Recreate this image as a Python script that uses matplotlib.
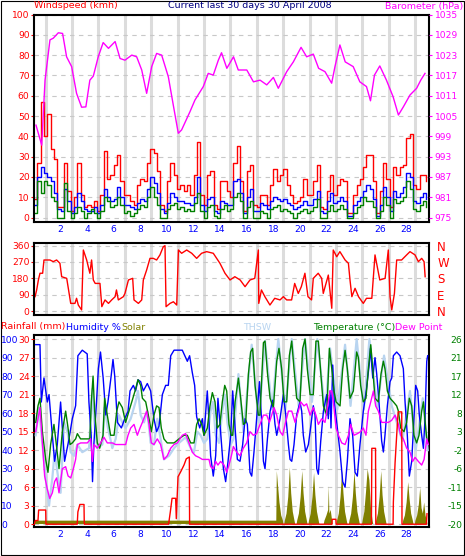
import numpy as np
import matplotlib
matplotlib.use('Agg')
import matplotlib.pyplot as plt
from matplotlib.patches import Rectangle

plt.rcParams['font.family'] = ['DejaVu Sans']
plt.rcParams['axes.unicode_minus'] = False

RED = '#ff0000'
BLUE = '#0000ff'
GREEN = '#008000'
MAG = '#ff00ff'
OLIVE = '#808000'
THSW_C = '#b8d4f0'
NAVY = '#000080'

# ---- data (day of period, value) ----
# wind, one sample per 6 hours (km/h)
gust = [9,27,57,40,51,34,29,5,5,27, 13,3,10,27,11,5,6,5,8,3,
        11,33,19,21,26,31,18,11,11,8, 6,16,19,18,27,34,32,23,6,3,
        18,27,21,14,16,13,16,11,21,37, 11,6,21,23,6,4,18,18,13,10,
        27,35,18,3,23,26,6,5,11,11, 6,16,24,18,21,24,16,11,7,8,
        10,19,11,11,18,26,5,4,13,21, 11,16,19,18,2,2,11,16,19,25,
        31,31,18,2,13,27,19,5,25,21, 25,26,39,41,16,14,21,21,18]
wind_avg = [6,20,25,22,20,18,12,4,3,14, 8,2,5,12,8,4,3,3,5,2,
            6,14,10,8,9,15,10,6,6,5, 4,7,9,8,14,20,17,12,4,2,
            7,12,10,8,8,7,7,6,10,20, 6,3,9,10,3,2,8,7,6,6,
            18,19,12,2,10,14,3,3,7,6, 4,8,10,9,8,9,7,6,4,5,
            6,8,6,6,9,13,3,2,8,12, 7,8,10,8,1,1,6,8,10,13,
            16,14,9,1,6,15,10,3,13,10, 12,15,22,20,8,7,10,12,9]
wind = [2,18,12,18,16,10,8,0,0,17, 3,0,2,5,3,0,2,4,2,0,
        3,10,8,5,6,10,6,2,3,1, 2,4,6,5,10,15,10,6,0,0,
        4,6,7,4,5,3,4,3,7,12, 3,0,5,6,1,0,4,6,3,4,
        10,12,8,0,5,8,0,0,3,2, 0,4,5,6,3,4,3,2,0,2,
        3,4,2,3,5,9,0,0,3,6, 3,4,6,4,0,0,2,5,6,10,
        8,8,5,0,3,10,6,0,9,7, 8,10,18,14,4,3,6,8,5]

barometer = [(0.15,1002.3),(0.58,996.4),(0.83,1015.6),(1.2,1027.5),(1.45,1028),(1.83,1029.6),
             (2.15,1029.4),(2.45,1022.5),(2.83,1019.6),(3.2,1011.7),(3.58,1007.6),(3.9,1007.7),
             (4.2,1015.6),(4.46,1016.8),(4.83,1022.5),(5.2,1026.7),(5.6,1025),(6.1,1027),
             (6.47,1022),(6.84,1021.5),(7.35,1023),(7.72,1022.5),(8.1,1018.6),(8.47,1011.7),
             (8.85,1019.6),(9.22,1023.5),(9.6,1023),(10.1,1016.6),(10.47,1008.3),(10.85,999.9),
             (11.1,1000.9),(11.73,1006.3),(12.1,1009.7),(12.73,1013.7),(13.1,1017.6),(13.48,1017.1),
             (13.86,1021.5),(14.1,1023.7),(14.5,1019.1),(15.0,1022.5),(15.36,1018.6),(16.0,1018.6),
             (16.5,1015.1),(17.0,1015.6),(17.5,1014.2),(18.0,1016.4),(18.37,1013.2),(19.0,1018.1),
             (19.5,1021),(20.08,1025.3),(20.5,1022.5),(21.0,1023.3),(21.4,1019.1),(21.88,1018.1),
             (22.38,1014.7),(22.63,1019.6),(23.0,1026),(23.4,1021),(24.0,1019.6),(24.5,1015.1),
             (25.0,1013.7),(25.3,1009.5),(25.6,1017.1),(26.0,1019.8),(26.5,1015.6),(27.0,1010.7),
             (27.4,1005.3),(27.77,1007.7),(28.27,1011.2),(28.77,1013.2),(29.08,1015.6),(29.4,1017.6)]

wind_dir = [(0.08,79),(0.2,116),(0.33,171),(0.45,208),(0.65,208),(0.75,281),(1.2,281),(1.45,272),
            (1.7,281),(1.95,263),(2.08,189),(2.46,180),(2.58,125),(2.76,42),(3.08,42),(3.2,70),
            (3.33,33),(3.58,6),(3.71,336),(3.96,281),(4.2,208),(4.33,281),(4.46,171),(4.6,152),
            (4.96,152),(5.1,24),(5.34,61),(5.6,42),(5.84,61),(6.1,79),(6.2,116),(6.34,61),
            (6.72,79),(6.84,97),(7.1,171),(7.42,180),(7.52,61),(7.85,42),(8.1,61),(8.22,171),
            (8.47,226),(8.72,290),(8.97,290),(9.22,281),(9.47,309),(9.72,354),(9.85,360),(9.93,24),
            (10.23,42),(10.48,51),(10.73,33),(10.86,336),(11.1,318),(11.48,336),(11.86,318),(12.23,290),
            (12.6,318),(12.98,327),(13.48,318),(13.98,263),(14.36,208),(14.74,171),(15.1,189),(15.5,171),
            (15.87,134),(16.24,171),(16.6,180),(16.87,336),(16.9,42),(17.1,116),(17.36,79),(17.74,33),
            (18.1,70),(18.5,61),(18.75,79),(19.0,61),(19.37,61),(19.6,152),(19.87,97),(20.1,134),
            (20.37,208),(20.6,79),(20.87,61),(21.0,180),(21.37,208),(21.63,180),(21.75,97),(22.13,198),
            (22.39,15),(22.5,336),(22.76,299),(23.0,327),(23.39,281),(23.64,263),(23.76,171),(23.9,79),
            (24.14,125),(24.4,79),(24.76,42),(25.0,70),(25.4,70),(25.64,309),(26.0,171),(26.4,180),
            (26.64,336),(26.77,79),(26.9,6),(27.1,97),(27.27,281),(27.64,281),(28.02,309),(28.27,327),
            (28.65,309),(28.9,272),(29.15,290),(29.33,272),(29.41,189)]

humidity = [(0.13,97),(0.45,97),(0.55,66),(0.75,79),(1.0,66),(1.13,70),(1.38,48),(1.55,34),(1.75,43),
            (2.0,66),(2.3,34),(2.63,46),(2.88,57),(3.13,64),(3.3,91),(3.63,94),(4.0,92),(4.13,66),
            (4.3,48),(4.4,23),(4.5,43),(4.7,66),(4.84,84),(5.0,93),(5.2,79),(5.4,59),(5.56,66),
            (5.8,80),(5.94,89),(6.07,80),(6.27,55),(6.57,52),(6.82,57),(7.07,61),(7.22,72),(7.47,75),
            (7.64,72),(7.82,78),(8.02,77),(8.22,72),(8.52,76),(8.77,72),(9.02,57),(9.22,50),(9.4,53),
            (9.65,70),(9.9,75),(10.1,75),(10.28,91),(10.53,94),(11.15,94),(11.53,88),(11.7,91),
            (11.9,82),(12.08,75),(12.23,58),(12.46,52),(12.66,57),(12.78,48),(13.03,72),(13.16,55),
            (13.28,37),(13.48,26),(13.66,37),(13.83,68),(14.03,50),(14.24,30),(14.41,23),(14.59,34),
            (14.79,48),(14.94,72),(15.12,52),(15.29,35),(15.49,34),(15.69,43),(15.87,57),(16.04,54),
            (16.24,28),(16.37,26),(16.54,39),(16.74,57),(16.95,77),(17.12,55),(17.25,34),(17.37,30),
            (17.55,46),(17.75,61),(17.95,67),(18.12,54),(18.25,48),(18.5,57),(18.75,70),(18.93,59),
            (19.13,43),(19.25,35),(19.38,34),(19.55,43),(19.75,59),(20.0,66),(20.13,61),(20.25,48),
            (20.43,39),(20.63,43),(20.76,50),(21.0,64),(21.13,59),(21.26,30),(21.38,27),(21.56,45),
            (21.76,61),(22.01,70),(22.13,57),(22.26,72),(22.33,52),(22.46,86),(22.58,66),(22.76,55),
            (23.01,39),(23.21,23),(23.39,20),(23.56,34),(23.76,57),(23.96,48),(24.14,28),(24.31,26),
            (24.51,43),(24.76,61),(25.0,73),(25.2,86),(25.3,95),(25.47,79),(25.64,90),(25.77,81),
            (25.94,66),(26.14,45),(26.27,39),(26.39,48),(26.57,64),(26.77,77),(26.9,79),(27.02,91),
            (27.27,93),(27.52,91),(27.77,84),(27.9,66),(28.07,48),(28.22,26),(28.4,34),(28.52,50),
            (28.7,75),(28.85,72),(28.97,59),(29.15,48),(29.28,41),(29.4,57),(29.53,88),(29.6,91)]

temperature = [(0.13,5.3),(0.3,9.4),(0.45,11.3),(0.63,3.0),(0.88,-3.9),(1.05,-7.1),(1.25,-0.2),
               (1.5,4.8),(1.68,-0.2),(1.88,-6.2),(2.13,3.0),(2.38,8.1),(2.56,3.9),(2.71,-0.2),
               (2.88,0.2),(3.13,1.2),(3.26,2.5),(3.5,1.2),(4.0,1.2),(4.2,1.2),(4.31,10.4),(4.44,16.8),
               (4.56,8.1),(4.76,0.2),(4.94,-1.1),(5.19,2.1),(5.31,11.3),(5.51,7.1),(5.76,2.1),(6.02,2.1),
               (6.22,8.1),(6.39,10.4),(6.64,9.0),(6.89,5.3),(7.14,8.1),(7.39,10.8),(7.64,13.6),(7.82,15.9),
               (8.02,14.5),(8.15,11.3),(8.4,10.4),(8.65,6.2),(8.82,3.0),(9.02,7.1),(9.22,9.4),(9.4,9.0),
               (9.57,3.9),(9.77,1.2),(10.02,0.2),(10.53,0.2),(10.9,1.2),(11.28,2.1),(11.53,2.1),
               (11.78,0.2),(12.03,0.2),(12.23,4.8),(12.41,6.2),(12.61,4.8),(12.78,2.1),(13.03,3.9),
               (13.23,9.4),(13.41,12.7),(13.61,10.4),(13.78,3.9),(13.98,4.8),(14.16,10.4),(14.34,14.5),
               (14.49,13.1),(14.66,4.8),(14.84,2.1),(14.94,2.1),(15.12,10.4),(15.37,16.3),(15.54,11.3),
               (15.74,4.8),(15.92,5.3),(16.12,17.3),(16.29,22.8),(16.44,23.7),(16.62,14.5),(16.87,7.1),
               (16.99,7.1),(17.25,25.1),(17.37,25.5),(17.55,17.7),(17.75,11.3),(18.0,9.0),(18.25,20.5),
               (18.42,23.7),(18.62,18.6),(18.8,10.4),(19.0,10.4),(19.2,21.9),(19.38,25.5),(19.55,18.6),
               (19.75,11.3),(20.0,10.4),(20.2,23.7),(20.38,26.0),(20.55,18.6),(20.76,12.2),(21.0,12.2),
               (21.2,25.5),(21.38,25.5),(21.56,17.7),(21.76,9.4),(22.01,7.1),(22.21,23.7),(22.39,18.6),
               (22.56,13.1),(22.71,10.4),(23.01,9.4),(23.21,18.6),(23.39,23.2),(23.56,18.6),(23.76,11.3),
               (24.01,13.1),(24.26,22.8),(24.39,21.4),(24.56,14.5),(24.76,10.4),(24.96,11.3),(25.14,18.6),
               (25.32,24.6),(25.47,18.6),(25.64,11.3),(25.89,10.4),(26.09,17.3),(26.27,20.5),(26.39,18.6),
               (26.57,13.1),(26.77,11.3),(27.02,10.4),(27.27,9.4),(27.4,8.1),(27.57,3.9),(27.82,3.0),
               (28.02,5.3),(28.22,11.3),(28.4,9.4),(28.57,2.1),(28.77,0.2),(28.95,2.1),(29.15,8.1),
               (29.28,10.4),(29.45,3.9),(29.57,0.2)]

dew_point = [(0.13,3.0),(0.3,6.2),(0.45,9.0),(0.63,0.2),(0.8,-8.0),(1.0,-11.3),(1.18,-13.6),
             (1.38,-12.2),(1.55,-9.4),(1.7,-8.5),(1.88,-12.2),(2.13,-6.2),(2.38,-5.7),(2.56,-8.0),
             (2.76,-8.5),(2.96,-6.2),(3.13,-3.9),(3.26,-0.2),(3.51,0.2),(4.01,0.2),(4.26,1.2),
             (4.39,-4.4),(4.51,-0.2),(4.76,-1.1),(5.01,0.2),(5.26,1.6),(5.51,0.2),(5.89,0.2),
             (6.14,-0.2),(6.52,-0.2),(6.89,-0.2),(7.07,2.1),(7.27,3.9),(7.52,4.8),(7.77,2.1),
             (7.97,3.9),(8.15,5.3),(8.47,8.1),(8.65,4.8),(8.82,0.2),(9.02,-0.2),(9.27,1.2),
             (9.52,-0.2),(9.77,-3.9),(10.02,-3.0),(10.28,-1.1),(10.53,-0.2),(10.78,0.2),(11.15,2.1),
             (11.4,2.5),(11.65,0.2),(11.9,-2.1),(12.15,-3.0),(12.41,-3.4),(12.66,-3.9),(12.91,-3.9),
             (13.16,-3.9),(13.28,-5.7),(13.48,-6.2),(13.66,-4.4),(13.83,-5.3),(14.03,-4.4),
             (14.29,-5.3),(14.49,-7.1),(14.66,-5.3),(14.84,-3.0),(14.99,-0.7),(15.24,-2.1),
             (15.49,-3.0),(15.74,-1.1),(15.99,0.2),(16.24,3.0),(16.49,2.1),(16.74,2.5),(16.99,4.8),
             (17.25,7.1),(17.5,7.1),(17.7,5.3),(17.87,7.1),(18.05,9.0),(18.25,7.1),(18.5,3.0),
             (18.7,2.1),(18.88,4.8),(19.13,8.1),(19.38,8.1),(19.63,5.3),(19.88,8.1),(20.05,10.4),
             (20.3,9.4),(20.5,9.9),(20.76,7.1),(21.0,9.0),(21.2,7.1),(21.38,4.8),(21.63,6.2),
             (21.88,5.3),(22.06,9.0),(22.26,13.1),(22.38,13.1),(22.51,10.4),(22.71,3.9),(22.89,2.1),
             (23.14,0.2),(23.39,-0.2),(23.64,2.1),(23.81,4.8),(24.06,2.1),(24.31,2.5),(24.56,3.0),
             (24.76,3.9),(24.96,2.1),(25.14,8.1),(25.32,10.4),(25.52,13.1),(25.69,9.4),(25.89,8.1),
             (26.14,5.3),(26.39,5.3),(26.64,5.3),(26.89,5.8),(27.15,7.1),(27.4,4.8),(27.57,2.1),
             (27.77,1.2),(28.02,-1.1),(28.27,-2.1),(28.47,-4.4),(28.65,-3.4),(28.9,-4.4),(29.15,-5.3),
             (29.33,-3.9),(29.53,1.2),(29.65,-0.2)]

thsw = [(0.13,2.1),(0.38,9.0),(0.63,-0.2),(0.88,-8.5),(1.13,-15.4),(1.38,-8.5),(1.55,-2.1),
        (1.8,-8.0),(2.0,-12.2),(2.26,5.3),(2.51,3.0),(2.76,-2.1),(3.01,-3.0),(3.26,-0.2),
        (3.63,-2.1),(4.14,-1.1),(4.39,13.6),(4.51,6.2),(4.76,-1.1),(5.14,-0.2),(5.31,9.0),
        (5.56,3.9),(5.89,-1.1),(6.14,1.2),(6.39,7.1),(6.64,5.3),(6.89,3.9),(7.27,6.2),(7.64,10.4),
        (7.82,13.1),(8.02,7.1),(8.27,5.3),(8.52,8.1),(8.77,0.2),(9.02,-0.2),(9.27,6.2),(9.52,1.2),
        (9.77,-3.9),(10.15,-3.0),(10.53,-1.1),(10.9,0.2),(11.4,1.6),(11.78,-1.1),(12.03,-2.1),
        (12.28,3.0),(12.53,2.1),(12.78,0.2),(13.03,1.2),(13.28,8.1),(13.46,10.4),(13.66,2.1),
        (13.91,0.2),(14.16,8.1),(14.34,12.2),(14.54,5.3),(14.79,-0.2),(15.0,1.2),(15.37,17.3),
        (15.74,3.0),(16.37,24.6),(16.9,5.3),(17.37,25.5),(17.9,8.5),(18.37,26.0),(18.9,8.5),
        (19.38,26.0),(19.9,9.4),(20.38,26.0),(20.9,10.4),(21.3,26.0),(21.9,7.6),(22.26,23.7),
        (22.8,8.5),(23.39,24.6),(23.8,9.4),(24.26,26.0),(24.8,8.5),(25.22,26.0),(25.8,9.0),
        (26.32,21.9),(26.9,9.4),(27.7,0.7),(28.27,13.1),(28.7,-1.6),(29.23,11.3),(29.6,-1.6)]

rainfall = [(0.0,0),(0.1,0.6),(0.3,0.6),(0.35,2.3),(0.88,2.3),(0.9,0),(3.25,0),(3.3,2.0),(3.45,3.2),
            (3.76,3.2),(3.78,0),(10.12,0),(10.25,2.0),(10.38,4.2),(10.65,4.2),(10.7,0.9),(10.76,4.2),
            (10.83,7.7),(11.03,8.5),(11.28,9.6),(11.45,10.6),(11.68,10.9),(11.7,0),(22.4,0),(22.42,0.8),
            (22.7,0.8),(22.72,0),(25.37,0),(25.4,12.3),(25.68,12.3),(25.7,0),(27.0,0),(27.02,3.6),
            (27.15,10),(27.27,14.4),(27.38,18.2),(27.65,18.2),(27.67,0),(29.5,0),(29.55,1.7)]

# solar, in units of the left (humidity) scale
solar = [(0.0,2.2),(18.18,2.2),(18.22,29),(18.3,22),(18.42,12),(18.55,5),(18.68,2.2),(18.72,0),
         (18.78,0),(18.82,2.2),(18.95,6),(19.08,15),(19.2,31),(19.3,17),(19.42,7),(19.55,2.2),(19.6,0),
         (19.71,0),(19.75,2.2),(19.88,6),(20.01,15),(20.13,29),(20.23,17),(20.35,7),(20.48,2.2),(20.53,0),
         (20.6,0),(20.64,2.2),(20.77,6),(20.9,15),(21.02,28),(21.12,16),(21.24,7),(21.37,2.2),(21.42,0),
         (21.75,0),(21.8,2.2),(21.95,5),(22.08,8),(22.13,21),(22.17,6),(22.27,8),(22.38,2.2),(22.42,0),
         (22.71,0),(22.75,2.2),(22.88,6),(23.01,15),(23.13,29),(23.23,17),(23.35,7),(23.48,2.2),(23.53,0),
         (23.64,0),(23.68,2.2),(23.81,6),(23.94,15),(24.06,29),(24.16,17),(24.28,7),(24.41,2.2),(24.46,0),
         (24.63,0),(24.67,2.2),(24.8,7),(24.93,18),(25.05,30),(25.18,24),(25.3,9),(25.42,2.2),(25.47,0),
         (25.65,0),(25.69,2.2),(25.82,6),(25.95,15),(26.07,29),(26.17,16),(26.29,7),(26.42,2.2),(26.47,0),
         (27.68,0),(27.72,2.2),(27.85,5),(27.98,12),(28.1,23),(28.2,14),(28.32,6),(28.45,2.2),(28.5,0),
         (28.6,0),(28.64,2.2),(28.77,5),(28.9,11),(29.0,20),(29.1,9),(29.2,6),(29.3,12),(29.4,5),
         (29.5,2.2),(29.55,0)]

day_ticks = list(range(2, 29, 2))
compass = ['N', 'E', 'S', 'W', 'N']

# ---- figure ----
W, H = 465, 556
fig = plt.figure(figsize=(W / 100, H / 100), dpi=100)
FS = 6.6
HFS = 6.8


def panel(top, bottom):
    ax = fig.add_axes([34 / W, 1 - bottom / H, 395 / W, (bottom - top) / H])
    ax.set_xlim(0, 29.7)
    for g in np.linspace(0.88, 28.65, 15):
        ax.axvline(g, color='#dcdcdc', lw=2.2, zorder=0)
    ax.grid(axis='y', color='#c8c8c8', lw=0.8, ls=(0, (4, 4)))
    ax.set_axisbelow(True)
    for s in ax.spines.values():
        s.set_linewidth(1.5)
    ax.set_xticks(day_ticks)
    ax.tick_params(axis='x', length=0, colors=BLUE, labelsize=FS, pad=2)
    return ax


def twin(ax, lo, hi, ticks, labels, color, side='right', length=2.2, pad=2, fs=FS):
    t = ax.twinx()
    t.set_ylim(lo, hi)
    t.set_yticks(ticks)
    t.set_yticklabels(labels)
    if side == 'left':
        t.yaxis.tick_left()
    t.tick_params(axis='y', colors=color, labelsize=fs, length=length, pad=pad)
    for s in t.spines.values():
        s.set_visible(False)
    return t


# panel 1: wind + barometer
ax1 = panel(14.5, 222)
ax1.set_ylim(-2.2, 100)
ax1.set_yticks(range(0, 101, 10))
ax1.tick_params(axis='y', colors=RED, labelsize=FS, length=2.2, pad=1)
wx = np.arange(len(gust)) * 0.25
ax1.step(wx, gust, where='post', color=RED, lw=1.0)
ax1.step(wx, wind_avg, where='post', color=BLUE, lw=1.0)
ax1.step(wx, wind, where='post', color=GREEN, lw=1.0)
baro_ticks = list(range(975, 1036, 6))
ax1b = twin(ax1, 975 - 2.2 * 0.6, 1035, baro_ticks, [str(v) for v in baro_ticks], MAG, pad=2)
bd, bv = zip(*barometer)
ax1b.plot(bd, bv, color=MAG, lw=1.0)

# panel 2: wind direction
ax2 = panel(243.3, 315)
ax2.set_ylim(-22, 373)
ax2.set_yticks(range(0, 361, 90))
ax2.tick_params(axis='y', colors=RED, labelsize=FS, length=2.2, pad=1)
ax2.tick_params(axis='x', labelbottom=False)
dd, dv = zip(*wind_dir)
ax2.plot(dd, dv, color=RED, lw=1.0)
twin(ax2, -22, 373, range(0, 361, 90), compass, RED, length=0, pad=6, fs=8.5)

# panel 3: humidity, temperature, rain, solar
ax3 = panel(335, 527)
ax3.set_ylim(-1.5, 102.2)
ax3.set_yticks(range(0, 101, 10))
ax3.tick_params(axis='y', colors=BLUE, labelsize=FS, length=0, pad=23.5)
for lbl in ax3.get_yticklabels():
    lbl.set_horizontalalignment('left')
sd, sv = np.array(solar).T
ax3.fill_between(sd, 0.4, np.maximum(sv, 0.4), color=OLIVE, lw=0)
hd, hv = zip(*humidity)
temp_ticks = [-20 + 4.6 * k for k in range(11)]
ax3t = twin(ax3, -20 - 1.5 * 0.46, -20 + 102.2 * 0.46, temp_ticks,
            [str(round(v)) for v in temp_ticks], GREEN, length=0, pad=24)
for lbl in ax3t.get_yticklabels():
    lbl.set_horizontalalignment('right')
td, tv = zip(*thsw)
ax3t.plot(td, tv, color=THSW_C, lw=1.6)
ax3t.plot(hd, [(h * 0.46 - 20) for h in hv], color=BLUE, lw=1.0)
ad, av = zip(*temperature)
ax3t.plot(ad, av, color=GREEN, lw=1.0)
pd_, pv = zip(*dew_point)
ax3t.plot(pd_, pv, color=MAG, lw=1.0)
ax3r = twin(ax3, -0.45, 30.66, range(0, 31, 3), [str(v) for v in range(0, 31, 3)], RED,
            side='left', length=2.2, pad=1)
rd, rv = zip(*rainfall)
ax3r.plot(rd, rv, color=RED, lw=1.0)

# headers
renderer = fig.canvas.get_renderer()


def head(x, y, s, color, ha='left'):
    t = fig.text(x / W, 1 - y / H, s, color=color, fontsize=HFS, ha=ha, va='center')
    return t


def head_run(x, y, parts, right=None):
    # place texts one after the other; optionally keep the run ending before `right`
    widths = []
    for s, c in parts:
        t = fig.text(0, 0, s, fontsize=HFS)
        widths.append(t.get_window_extent(renderer).width)
        t.remove()
    if right is not None:
        x = min(x, right - sum(widths))
    for (s, c), w in zip(parts, widths):
        head(x, y, s, c)
        x += w


head(34, 6, 'Windspeed (kmh)', RED)
head(250, 6, 'Current last 30 days 30 April 2008', NAVY, ha='center')
head(463, 6, 'Barometer (hPa)', MAG, ha='right')
head(1, 327, 'Rainfall (mm)', RED)
head_run(66, 327, [('Humidity %', BLUE), ('Solar', OLIVE)])
head(243, 327, 'THSW', THSW_C)
head_run(313, 327, [('Temperature (°C)', GREEN), ('Dew Point', MAG)], right=443)

fig.patches.append(Rectangle((0.5 / W, 1.5 / H), 463 / W, 553.5 / H, transform=fig.transFigure,
                             fill=False, ec='black', lw=0.8))

fig.savefig('out.png', dpi=100)
